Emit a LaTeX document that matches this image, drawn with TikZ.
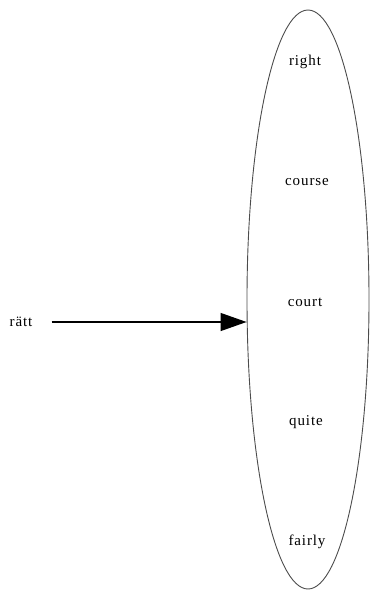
\documentclass[tikz,border=0pt]{standalone}
\usepackage{fontspec}
\setmainfont{Liberation Serif}[LetterSpace=6]
\usetikzlibrary{shapes.geometric,arrows.meta}
\begin{document}
\begin{tikzpicture}[x=1pt,y=-1pt,
  word/.style={font=\fontsize{15}{17}\selectfont, inner sep=1pt, text=black},
  hub/.style={draw=black!70, line width=0.9pt, ellipse, inner sep=0pt, minimum width=122pt, minimum height=579pt},
  link/.style={draw=black, line width=1.3pt, -{Triangle[length=26pt,width=18pt]}}]
\useasboundingbox (0,0) rectangle (370,591);
\node[hub] (ell) at (308,299.5) {};
\node[word] (right)  at (305,62)  {right};
\node[word] (course) at (307,182) {course};
\node[word] (court)  at (305,302) {court};
\node[word] (quite)  at (306,422) {quite};
\node[word] (fairly) at (307,542) {fairly};
\node[word] (ratt) at (21,322) {rätt};
\draw[link, shorten <=18pt] (ratt.east) -- (ratt.east -| ell.west);
\end{tikzpicture}
\end{document}
